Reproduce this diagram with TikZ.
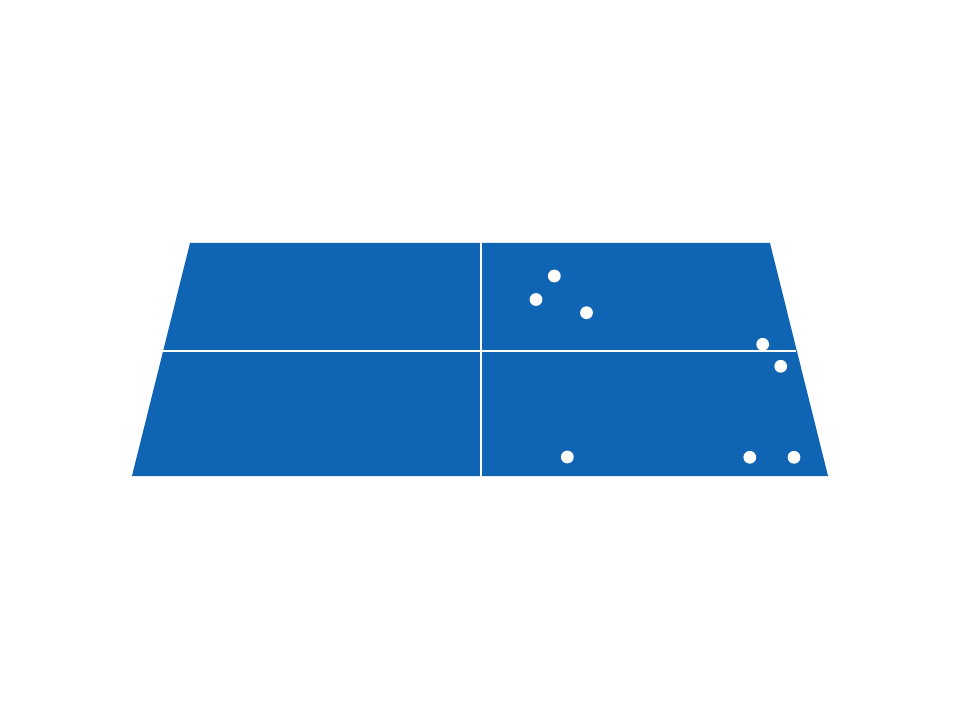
\documentclass[tikz,border=0pt]{standalone}
\definecolor{tableblue}{RGB}{15,100,180}
\begin{document}
\begin{tikzpicture}[x=0.75pt,y=-0.75pt,
  ball/.style={circle,fill=white,draw=none,inner sep=0pt,minimum size=9.6pt},
  netline/.style={white,line width=1.6pt}]
\useasboundingbox (0,0) rectangle (960,720);
\fill[tableblue] (190,243) -- (770,243) -- (828,476) -- (132,476) -- cycle;
\coordinate (hl) at (163,350.7);
\coordinate (hr) at (796,350.7);
\coordinate (vt) at (481,243);
\coordinate (vb) at (481,476);
\draw[netline] (hl) -- (hr);
\draw[white,line width=2pt] (vt) -- (vb);
\node[ball] (b1) at (554.3,276) {};
\node[ball] (b2) at (536,299.5) {};
\node[ball] (b3) at (586.5,312.7) {};
\node[ball] (b4) at (762.7,344.3) {};
\node[ball] (b5) at (780.7,366.3) {};
\node[ball] (b6) at (567.3,457) {};
\node[ball] (b7) at (749.8,457.3) {};
\node[ball] (b8) at (794,457.3) {};
\end{tikzpicture}
\end{document}
